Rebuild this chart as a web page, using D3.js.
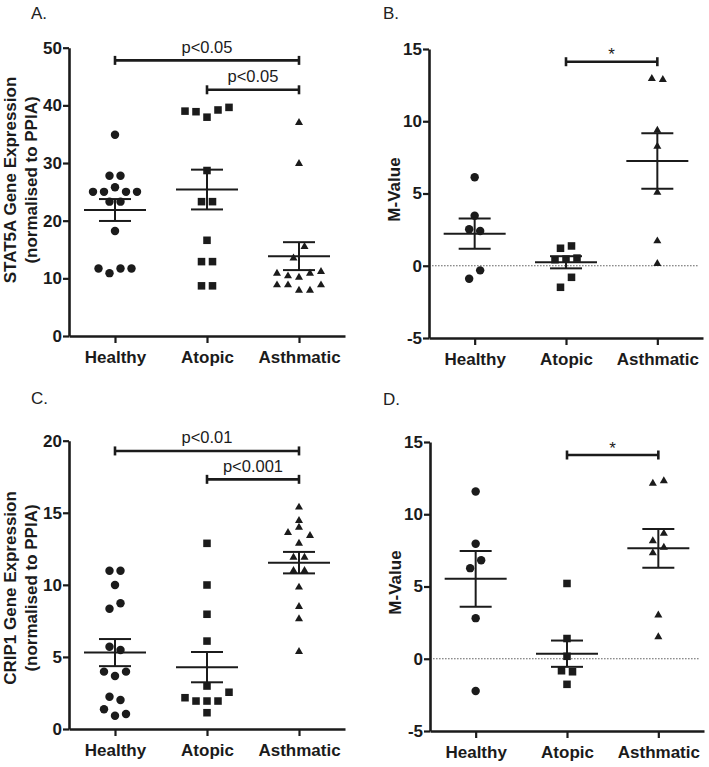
<!DOCTYPE html>
<html><head><meta charset="utf-8">
<script src="https://cdn.jsdelivr.net/npm/d3@7"></script>
<style>body{margin:0;background:#fff}svg{display:block}</style>
</head><body>
<svg id="chart" width="709" height="767"></svg>
<script>
const categories = ["Healthy", "Atopic", "Asthmatic"];

// Panel A: STAT5A gene expression (listed top row to bottom row, left to right)
const stat5aHealthy   = [34.9, 27.8, 27.8, 25.0, 25.0, 25.8, 25.0, 25.0, 23.3, 23.3, 18.2, 11.7, 10.9, 11.7, 11.7];
const stat5aAtopic    = [39.0, 38.9, 37.95, 39.2, 39.65, 28.7, 23.3, 23.3, 16.6, 12.9, 12.9, 8.7, 8.7];
const stat5aAsthmatic = [37.0, 29.9, 15.5, 13.5, 10.86, 10.4, 10.17, 10.86, 11.15, 8.84, 8.84, 7.9, 7.9, 8.84];
const stat5aMean = [21.85, 25.4, 13.85];
const stat5aSem  = [1.9, 3.45, 2.42];
const stat5aTicks = [0, 10, 20, 30, 40, 50];
const stat5aBrackets = [
  {from: "Healthy", to: "Asthmatic", y: 47.8, text: "p<0.05"},
  {from: "Atopic",  to: "Asthmatic", y: 42.7, text: "p<0.05"}
];

// Panel B: M-Value (STAT5A)
const mvalBHealthy   = [6.12, 3.46, 2.52, 2.40, -0.32, -0.9];
const mvalBAtopic    = [1.21, 1.37, 0.42, 0.46, 0.53, -0.8, -1.49];
const mvalBAsthmatic = [12.95, 12.88, 9.37, 8.26, 5.08, 1.71, 0.14];
const mvalBMean = [2.22, 0.24, 7.25];
const mvalBSem  = [1.05, 0.42, 1.92];
const mvalTicks = [-5, 0, 5, 10, 15];
const mvalBBrackets = [{from: "Atopic", to: "Asthmatic", y: 14.12, text: "*"}];

// Panel C: CRIP1 gene expression
const crip1Healthy   = [10.98, 10.98, 9.99, 8.34, 8.72, 5.71, 5.48, 3.98, 3.68, 3.98, 2.24, 2.01, 1.37, 0.92, 1.04];
const crip1Atopic    = [12.88, 9.99, 7.96, 6.1, 2.98, 2.17, 1.94, 1.94, 1.94, 2.55, 1.13];
const crip1Asthmatic = [15.38, 14.45, 13.62, 13.99, 13.41, 12.88, 11.91, 11.91, 10.98, 10.98, 9.83, 8.48, 7.63, 5.36];
const crip1Mean = [5.3, 4.29, 11.54];
const crip1Sem  = [0.94, 1.05, 0.745];
const crip1Ticks = [0, 5, 10, 15, 20];
const crip1Brackets = [
  {from: "Healthy", to: "Asthmatic", y: 19.29, text: "p<0.01"},
  {from: "Atopic",  to: "Asthmatic", y: 17.32, text: "p<0.001"}
];

// Panel D: M-Value (CRIP1)
const mvalDHealthy   = [11.58, 7.96, 6.82, 6.27, 2.81, -2.23];
const mvalDAtopic    = [5.21, 1.40, 0.17, -0.83, -0.9, -1.77];
const mvalDAsthmatic = [12.14, 12.30, 8.67, 8.16, 7.33, 7.70, 3.01, 1.51];
const mvalDMean = [5.53, 0.35, 7.64];
const mvalDSem  = [1.93, 0.91, 1.34];
const mvalDBrackets = [{from: "Atopic", to: "Asthmatic", y: 14.1, text: "*"}];

const panels = [
  {letter: "A.", title: ["STAT5A Gene Expression", "(normalised to PPIA)"], groups: [stat5aHealthy, stat5aAtopic, stat5aAsthmatic],
   mean: stat5aMean, sem: stat5aSem, ticks: stat5aTicks, brackets: stat5aBrackets, zero: false,
   box: {L: 69, R: 345, top: 47.7, bottom: 336}, letterPos: [31, 18.5], titleY: 180, titleX: [16, 36.5]},
  {letter: "B.", title: ["M-Value"], groups: [mvalBHealthy, mvalBAtopic, mvalBAsthmatic],
   mean: mvalBMean, sem: mvalBSem, ticks: mvalTicks, brackets: mvalBBrackets, zero: true,
   box: {L: 429, R: 703, top: 49, bottom: 338}, letterPos: [383, 18.5], titleY: 189.5, titleX: [400]},
  {letter: "C.", title: ["CRIP1 Gene Expression", "(normalised to PPIA)"], groups: [crip1Healthy, crip1Atopic, crip1Asthmatic],
   mean: crip1Mean, sem: crip1Sem, ticks: crip1Ticks, brackets: crip1Brackets, zero: false,
   box: {L: 69, R: 345, top: 440.7, bottom: 729}, letterPos: [31, 403.5], titleY: 588, titleX: [16, 36.5]},
  {letter: "D.", title: ["M-Value"], groups: [mvalDHealthy, mvalDAtopic, mvalDAsthmatic],
   mean: mvalDMean, sem: mvalDSem, ticks: mvalTicks, brackets: mvalDBrackets, zero: true,
   box: {L: 430, R: 704, top: 442, bottom: 731}, letterPos: [383, 404.5], titleY: 582.5, titleX: [401]}
];

const INK = "#1b1b1b";
const BOLD = "'Liberation Sans', Arial, sans-serif";
const symbols = [
  d3.symbol().type(d3.symbolCircle).size(56),
  d3.symbol().type(d3.symbolSquare).size(57),
  d3.symbol().type(d3.symbolTriangle).size(28)
];

function swarmOffsets(values, y, slot, rowTol, pairTol) {
  const order = values.map((v, i) => i).sort((a, b) => values[a] - values[b]);
  const rows = [];
  let cur = [];
  order.forEach(i => {
    if (cur.length && Math.abs(y(values[i]) - y(values[cur[cur.length - 1]])) > rowTol) { rows.push(cur); cur = []; }
    cur.push(i);
  });
  if (cur.length) rows.push(cur);
  const off = new Array(values.length).fill(0);
  rows.forEach(r => {
    const s = r.slice().sort((a, b) => a - b);
    s.forEach((i, k) => off[i] = (k - (s.length - 1) / 2) * slot);
  });
  for (let k = 0; k < rows.length - 1; k++) {
    if (rows[k].length === 1 && rows[k + 1].length === 1) {
      const a = rows[k][0], b = rows[k + 1][0];
      if (Math.abs(y(values[a]) - y(values[b])) < pairTol) { off[a] = -slot / 2; off[b] = slot / 2; k++; }
    }
  }
  return off;
}

const svg = d3.select("#chart");

panels.forEach(p => {
  const g = svg.append("g");
  const b = p.box;
  const x = d3.scalePoint().domain(categories).range([b.L, b.R]).padding(0.5);
  const y = d3.scaleLinear().domain(d3.extent(p.ticks)).range([b.bottom, b.top]);

  // panel letter
  g.append("text").attr("x", p.letterPos[0]).attr("y", p.letterPos[1])
    .attr("font-family", BOLD).attr("font-size", 17).attr("fill", "#222").text(p.letter);

  // axis title
  p.title.forEach((t, i) => {
    g.append("text").attr("transform", `translate(${p.titleX[i]},${p.titleY}) rotate(-90)`)
      .attr("text-anchor", "middle").attr("font-family", BOLD).attr("font-weight", "bold")
      .attr("font-size", 17).attr("fill", INK).text(t);
  });

  // zero reference line
  if (p.zero) {
    g.append("line").attr("x1", b.L + 3).attr("x2", b.R - 4).attr("y1", y(0)).attr("y2", y(0))
      .attr("stroke", "#666").attr("stroke-width", 1).attr("stroke-dasharray", "1.6,1.4");
  }

  // axes
  const ya = g.append("g").attr("transform", `translate(${b.L},0)`)
    .call(d3.axisLeft(y).tickValues(p.ticks).tickFormat(d => String(d)).tickSize(6).tickSizeOuter(0).tickPadding(1));
  const xa = g.append("g").attr("transform", `translate(0,${b.bottom})`)
    .call(d3.axisBottom(x).tickSize(7).tickSizeOuter(0).tickPadding(8));
  [ya, xa].forEach(a => {
    a.select(".domain").attr("stroke", INK).attr("stroke-width", 2.6);
    a.selectAll(".tick line").attr("stroke", INK).attr("stroke-width", 2.2);
    a.selectAll(".tick text").attr("font-family", BOLD).attr("font-weight", "bold")
      .attr("font-size", 17).attr("fill", INK);
  });

  // points
  p.groups.forEach((vals, gi) => {
    const off = swarmOffsets(vals, y, 11, 5.9, 12);
    g.append("g").selectAll("path").data(vals).join("path")
      .attr("d", symbols[gi])
      .attr("transform", (d, i) => `translate(${x(categories[gi]) + off[i]},${y(d)})`)
      .attr("fill", INK);
  });

  // mean and SEM
  categories.forEach((c, i) => {
    const cx = x(c), m = p.mean[i], s = p.sem[i];
    const st = g.append("g").attr("stroke", INK).attr("stroke-width", 2);
    st.append("line").attr("x1", cx - 31).attr("x2", cx + 31).attr("y1", y(m)).attr("y2", y(m));
    st.append("line").attr("x1", cx).attr("x2", cx).attr("y1", y(m - s)).attr("y2", y(m + s));
    [m - s, m + s].forEach(v => st.append("line").attr("x1", cx - 16).attr("x2", cx + 16).attr("y1", y(v)).attr("y2", y(v)));
  });

  // significance brackets
  p.brackets.forEach(br => {
    const x1 = x(br.from), x2 = x(br.to), yy = y(br.y);
    const bg = g.append("g").attr("stroke", INK).attr("stroke-width", 2.6);
    bg.append("line").attr("x1", x1).attr("x2", x2).attr("y1", yy).attr("y2", yy);
    [x1, x2].forEach(xx => bg.append("line").attr("x1", xx).attr("x2", xx).attr("y1", yy - 4.5).attr("y2", yy + 4.5));
    const star = br.text === "*";
    g.append("text").attr("x", (x1 + x2) / 2).attr("y", star ? yy - 1.5 : yy - 7.5)
      .attr("text-anchor", "middle").attr("font-family", BOLD).attr("font-size", star ? 17 : 16.5)
      .attr("fill", INK).text(br.text);
  });
});
</script>
</body></html>
